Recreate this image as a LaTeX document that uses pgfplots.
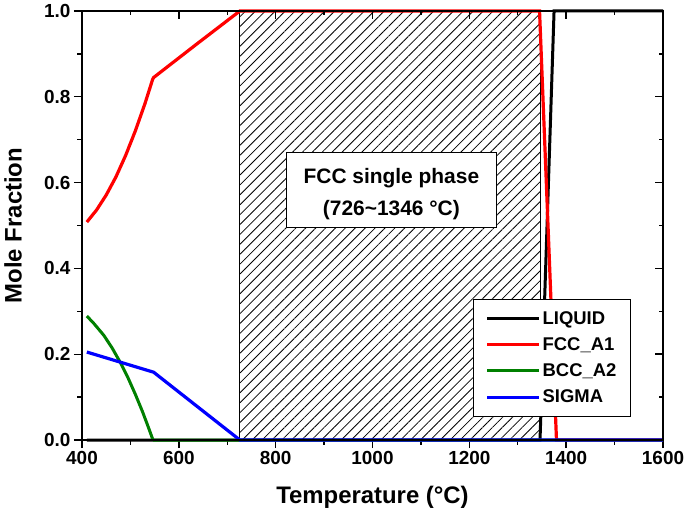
\documentclass[border=0pt]{standalone}
\usepackage{pgfplots}
\pgfplotsset{compat=1.18}
\usepackage{fontspec}
\setmainfont{Liberation Sans}
\usetikzlibrary{patterns.meta}

\definecolor{cLiq}{RGB}{0,0,0}
\definecolor{cFcc}{RGB}{255,0,0}
\definecolor{cBcc}{RGB}{0,128,0}
\definecolor{cSig}{RGB}{0,0,255}

\begin{document}
\begin{tikzpicture}
\pgfplotsset{
  base/.style={
    scale only axis, width=581bp, height=429bp,
    xmin=400, xmax=1600, ymin=0, ymax=1.0,
    xtick={400,600,...,1600}, minor x tick num=1,
    ytick={0,0.2,...,1.0}, minor y tick num=1,
    axis line style={line width=1.6bp},
    major tick length=8bp, minor tick length=4.5bp,
    every tick/.style={line width=1.4bp, black},
  }
}
\begin{axis}[base,
    at={(0,0)}, anchor=south west,
    clip=false,
    xtick pos=bottom, ytick pos=left, tick align=outside,
    /pgf/number format/assume math mode=true,
    ticklabel style={font=\fontsize{19}{22}\selectfont\bfseries},
    yticklabel style={/pgf/number format/.cd, fixed, fixed zerofill, precision=1},
    xticklabel style={/pgf/number format/.cd, 1000 sep={}},
    xlabel={Temperature (°C)}, ylabel={Mole Fraction},
    label style={font=\fontsize{24}{28}\selectfont\bfseries},
    xlabel style={at={(rel axis cs:0.5,0)}, anchor=base, yshift=-63bp},
    ylabel style={at={(rel axis cs:0,0.5)}, anchor=center, rotate=0, yshift=69bp},
    legend cell align=left,
    legend style={at={(rel axis cs:0.673,0.329)}, anchor=north west,
      draw=black, line width=0.9bp, fill=white,
      font=\fontsize{18.5}{21}\selectfont\bfseries,
      row sep=7.9bp, inner xsep=12bp, inner ysep=10bp},
    legend image code/.code={\path (0bp,0bp) -- (52bp,0bp);
      \draw[#1, line width=3bp] (0bp,0bp) -- (46bp,0bp);},
  ]
  % FCC single phase hatched region
  \addplot[draw=black, line width=0.9bp,
    pattern={Lines[angle=45,distance=7bp,line width=0.8bp]}, pattern color=black, forget plot]
    coordinates {(726,0) (726,1.0) (1346,1.0) (1346,0)} -- cycle;

  \addplot[cLiq, line width=3bp] coordinates {
    (410,0) (1346,0) (1375,1.0) (1600,1.0)};
  \addlegendentry{LIQUID}

  \addplot[cFcc, line width=3.2bp] coordinates {
    (410,0.508) (430,0.536) (450,0.571) (470,0.613) (490,0.663) (510,0.720)
    (530,0.784) (546,0.841) (548,0.845) (637,0.923) (726,1.0)
    (1345,1.0) (1380,0) (1600,0)};
  \addlegendentry{FCC\_A1}

  \addplot[cBcc, line width=3bp] coordinates {
    (410,0.289) (425,0.271) (445,0.244) (462,0.215) (479,0.181) (495,0.145)
    (510,0.107) (525,0.066) (536,0.033) (546,0.002) (548,0) (1600,0)};
  \addlegendentry{BCC\_A2}

  \addplot[cSig, line width=3.2bp] coordinates {
    (410,0.205) (548,0.158) (726,0) (1600,0)};
  \addlegendentry{SIGMA}

  \node[draw=black, line width=0.9bp, fill=white, minimum width=210bp, minimum height=75bp,
        align=center, font=\fontsize{21}{33}\selectfont\bfseries, text depth=0pt]
    at (axis cs:1039,0.583) {\raisebox{-4bp}{\shortstack{FCC single phase\\[9bp](726\textasciitilde1346 °C)}}};
\end{axis}
\begin{axis}[base,
    at={(0,0)}, anchor=south west,
    xtick pos=top, ytick pos=right, tick align=inside,
    xticklabels={}, yticklabels={},
  ]
\end{axis}
\pgfresetboundingbox
\useasboundingbox (-82bp,-74bp) rectangle (603bp,440bp);
\end{tikzpicture}
\end{document}
